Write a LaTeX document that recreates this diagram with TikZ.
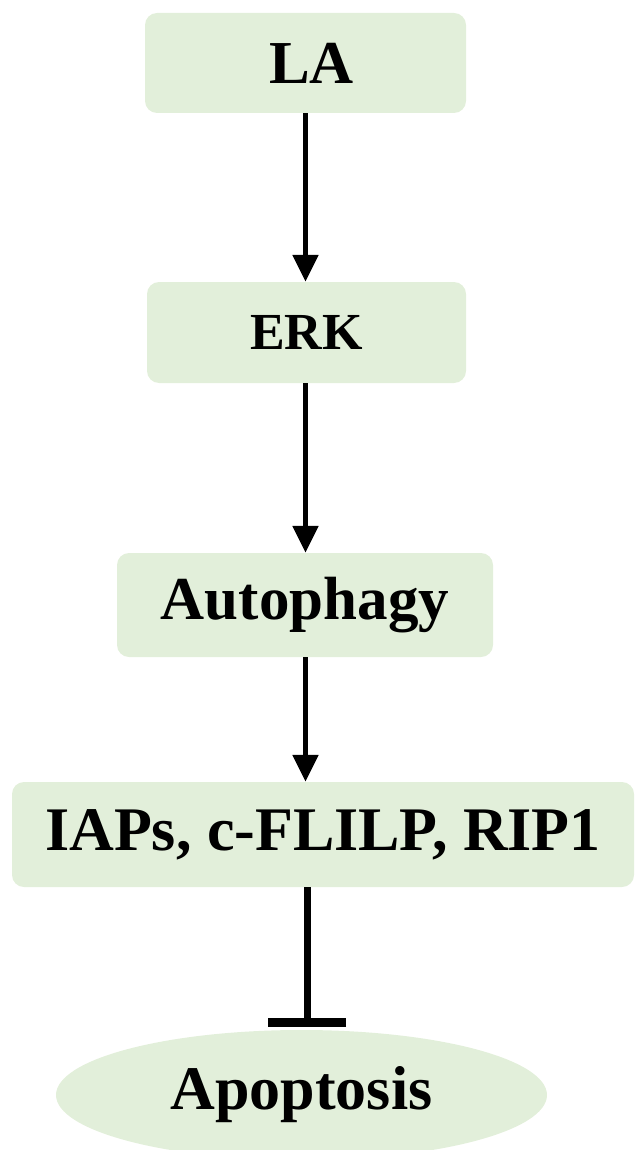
\documentclass[tikz,border=0pt]{standalone}
\usepackage{fontspec}
\setmainfont{Liberation Serif}
\usetikzlibrary{arrows.meta,shapes.geometric}
\definecolor{boxgreen}{HTML}{E2EFDA}
\tikzset{
  stepbox/.style={rectangle, rounded corners=12pt, fill=boxgreen, inner sep=0pt, font=\bfseries},
  endoval/.style={ellipse, fill=boxgreen, inner sep=0pt, font=\bfseries},
  activate/.style={line width=5pt, -{Triangle[width=25pt,length=27pt]}},
  inhibit/.style={line width=7pt, -{Bar[width=78pt,line width=9pt]}, shorten >=3pt},
}
\begin{document}
\begin{tikzpicture}[x=1pt,y=-1pt]
\useasboundingbox (0,0) rectangle (636,1150);
\clip (0,0) rectangle (636,1150);
\node[stepbox, minimum width=321pt, minimum height=100pt] (la) at (305.5,63) {\fontsize{61}{70}\selectfont\hspace*{12pt}LA};
\node[stepbox, minimum width=319pt, minimum height=101pt] (erk) at (306.5,332.5) {\fontsize{52}{60}\selectfont ERK};
\node[stepbox, minimum width=376pt, minimum height=104pt] (auto) at (305,605) {\fontsize{61}{70}\selectfont Autophagy};
\node[stepbox, minimum width=622pt, minimum height=105pt] (iaps) at (323,834.5) {\fontsize{62}{72}\selectfont IAPs, c-FLILP, RIP1};
\node[endoval, minimum width=491pt, minimum height=130pt] (apo) at (301.5,1095) {\fontsize{62}{72}\selectfont Apoptosis};
\draw[activate] (la.south) -- (la.south |- erk.north);
\draw[activate] (erk.south -| la.south) -- (la.south |- auto.north);
\draw[activate] (auto.south -| la.south) -- (la.south |- iaps.north);
\draw[inhibit] ([xshift=1.5pt]la.south |- iaps.south) -- ([xshift=1.5pt]la.south |- apo.north);
\end{tikzpicture}
\end{document}
